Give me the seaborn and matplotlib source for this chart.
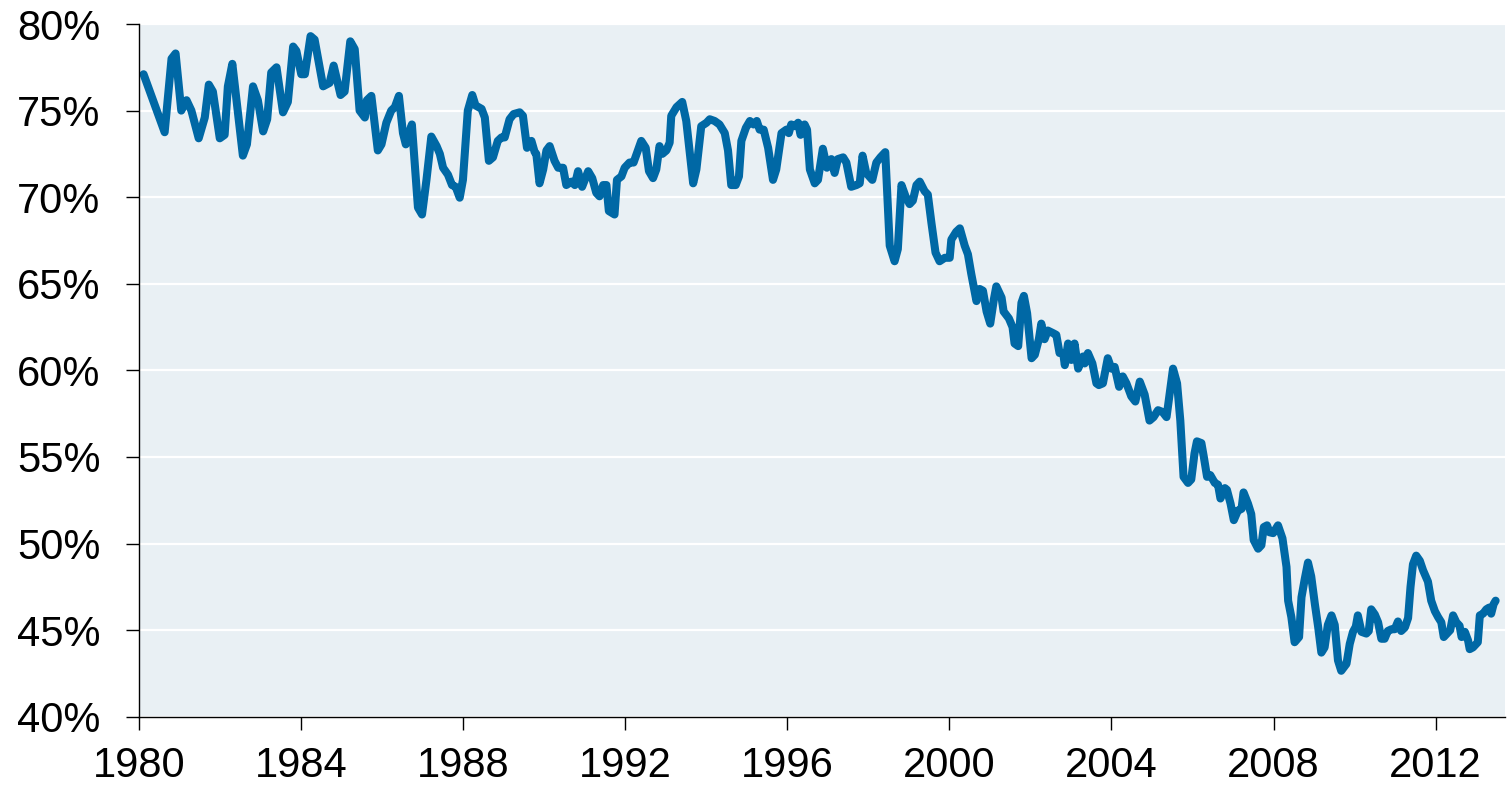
import pandas as pd
import matplotlib
matplotlib.use("Agg")
import matplotlib.pyplot as plt
import seaborn as sns
from matplotlib.ticker import PercentFormatter, MultipleLocator

# Series (decimal year, percent)
years = [
    1980.12, 1980.64, 1980.81, 1980.91, 1981.05, 1981.18, 1981.30, 1981.48, 1981.63, 1981.73,
    1981.83, 1982.00, 1982.12, 1982.20, 1982.31, 1982.57, 1982.67, 1982.82, 1982.94, 1983.07,
    1983.17, 1983.27, 1983.40, 1983.56, 1983.68, 1983.81, 1983.89, 1984.01, 1984.10, 1984.24,
    1984.34, 1984.55, 1984.71, 1984.81, 1984.98, 1985.08, 1985.22, 1985.33, 1985.45, 1985.58,
    1985.63, 1985.74, 1985.90, 1985.99, 1986.11, 1986.23, 1986.32, 1986.42, 1986.52, 1986.59,
    1986.64, 1986.74, 1986.89, 1986.99, 1987.10, 1987.22, 1987.35, 1987.43, 1987.51, 1987.63,
    1987.73, 1987.82, 1987.92, 1988.00, 1988.12, 1988.23, 1988.31, 1988.46, 1988.54, 1988.64,
    1988.74, 1988.86, 1988.95, 1989.03, 1989.15, 1989.25, 1989.40, 1989.48, 1989.58, 1989.69,
    1989.77, 1989.81, 1989.89, 1989.98, 1990.06, 1990.14, 1990.26, 1990.35, 1990.47, 1990.55,
    1990.68, 1990.76, 1990.84, 1990.94, 1991.09, 1991.19, 1991.29, 1991.37, 1991.46, 1991.54,
    1991.60, 1991.74, 1991.80, 1991.91, 1991.99, 1992.11, 1992.21, 1992.40, 1992.51, 1992.59,
    1992.69, 1992.77, 1992.85, 1992.92, 1993.02, 1993.10, 1993.14, 1993.27, 1993.41, 1993.51,
    1993.68, 1993.76, 1993.88, 1994.01, 1994.09, 1994.21, 1994.33, 1994.46, 1994.54, 1994.62,
    1994.73, 1994.81, 1994.87, 1994.98, 1995.08, 1995.17, 1995.25, 1995.32, 1995.42, 1995.53,
    1995.65, 1995.73, 1995.86, 1995.98, 1996.04, 1996.10, 1996.19, 1996.27, 1996.33, 1996.43,
    1996.49, 1996.56, 1996.68, 1996.76, 1996.88, 1996.98, 1997.09, 1997.17, 1997.25, 1997.38,
    1997.46, 1997.58, 1997.71, 1997.79, 1997.86, 1997.95, 1998.10, 1998.20, 1998.30, 1998.42,
    1998.53, 1998.65, 1998.73, 1998.82, 1998.92, 1999.02, 1999.10, 1999.19, 1999.27, 1999.39,
    1999.47, 1999.56, 1999.66, 1999.76, 1999.89, 2000.01, 2000.05, 2000.17, 2000.26, 2000.38,
    2000.46, 2000.54, 2000.67, 2000.75, 2000.83, 2000.92, 2001.01, 2001.10, 2001.16, 2001.29,
    2001.34, 2001.47, 2001.56, 2001.61, 2001.70, 2001.78, 2001.84, 2001.92, 2002.03, 2002.11,
    2002.21, 2002.27, 2002.35, 2002.43, 2002.56, 2002.64, 2002.72, 2002.81, 2002.85, 2002.93,
    2003.01, 2003.09, 2003.18, 2003.30, 2003.34, 2003.42, 2003.53, 2003.63, 2003.69, 2003.79,
    2003.91, 2004.00, 2004.08, 2004.19, 2004.28, 2004.37, 2004.49, 2004.59, 2004.70, 2004.82,
    2004.94, 2005.04, 2005.15, 2005.26, 2005.36, 2005.44, 2005.52, 2005.62, 2005.70, 2005.78,
    2005.89, 2005.97, 2006.05, 2006.11, 2006.22, 2006.28, 2006.36, 2006.44, 2006.55, 2006.63,
    2006.69, 2006.80, 2006.85, 2006.94, 2007.02, 2007.12, 2007.21, 2007.26, 2007.37, 2007.45,
    2007.51, 2007.62, 2007.70, 2007.76, 2007.84, 2007.90, 2007.99, 2008.11, 2008.22, 2008.32,
    2008.36, 2008.44, 2008.52, 2008.63, 2008.69, 2008.77, 2008.85, 2008.93, 2009.02, 2009.10,
    2009.18, 2009.26, 2009.34, 2009.43, 2009.51, 2009.59, 2009.67, 2009.80, 2009.88, 2009.96,
    2010.03, 2010.08, 2010.17, 2010.29, 2010.35, 2010.41, 2010.50, 2010.58, 2010.66, 2010.74,
    2010.82, 2010.91, 2010.99, 2011.07, 2011.15, 2011.24, 2011.32, 2011.38, 2011.44, 2011.52,
    2011.61, 2011.69, 2011.81, 2011.89, 2011.98, 2012.06, 2012.14, 2012.20, 2012.28, 2012.36,
    2012.43, 2012.51, 2012.59, 2012.64, 2012.72, 2012.80, 2012.84, 2012.92, 2013.04, 2013.09,
    2013.17, 2013.25, 2013.32, 2013.37, 2013.43, 2013.48,
]

rate = [
    77.1, 73.75, 78.0, 78.3, 75.0, 75.6, 75.0, 73.4, 74.6, 76.5,
    76.1, 73.4, 73.6, 76.4, 77.7, 72.4, 73.05, 76.4, 75.6, 73.8,
    74.5, 77.2, 77.5, 74.9, 75.5, 78.7, 78.45, 77.1, 77.1, 79.3,
    79.1, 76.4, 76.6, 77.6, 75.9, 76.1, 79.0, 78.55, 75.0, 74.6,
    75.6, 75.85, 72.7, 73.05, 74.3, 75.0, 75.2, 75.85, 73.7, 73.05,
    73.5, 74.2, 69.4, 69.0, 71.0, 73.5, 72.95, 72.5, 71.7, 71.3,
    70.7, 70.6, 69.97, 71.0, 75.0, 75.9, 75.3, 75.1, 74.6, 72.1,
    72.3, 73.25, 73.45, 73.45, 74.5, 74.8, 74.9, 74.7, 72.85, 73.25,
    72.6, 72.5, 70.8, 71.6, 72.7, 72.95, 72.1, 71.7, 71.7, 70.7,
    70.9, 70.7, 71.5, 70.6, 71.5, 71.1, 70.25, 70.05, 70.7, 70.7,
    69.2, 69.0, 71.0, 71.2, 71.7, 72.0, 72.0, 73.25, 72.85, 71.5,
    71.1, 71.6, 72.95, 72.5, 72.7, 73.15, 74.7, 75.2, 75.5, 74.4,
    70.8, 71.6, 74.1, 74.3, 74.5, 74.4, 74.2, 73.7, 72.7, 70.7,
    70.7, 71.2, 73.25, 74.0, 74.4, 74.2, 74.4, 73.9, 73.9, 72.85,
    71.0, 71.6, 73.7, 73.9, 73.7, 74.2, 74.1, 74.3, 73.6, 74.2,
    73.9, 71.6, 70.8, 71.0, 72.8, 71.7, 72.2, 71.4, 72.2, 72.3,
    72.0, 70.6, 70.7, 70.8, 72.4, 71.4, 71.0, 72.0, 72.3, 72.6,
    67.2, 66.3, 67.0, 70.7, 70.05, 69.6, 69.8, 70.7, 70.9, 70.35,
    70.15, 68.5, 66.8, 66.3, 66.5, 66.5, 67.55, 68.0, 68.2, 67.2,
    66.7, 65.6, 64.0, 64.7, 64.6, 63.4, 62.7, 64.1, 64.85, 64.2,
    63.4, 63.0, 62.5, 61.55, 61.4, 63.9, 64.3, 63.3, 60.7, 60.9,
    61.8, 62.7, 61.8, 62.3, 62.15, 62.05, 61.0, 61.0, 60.3, 61.55,
    60.6, 61.55, 60.1, 60.8, 60.4, 61.0, 60.4, 59.25, 59.15, 59.25,
    60.7, 60.1, 60.2, 59.05, 59.65, 59.25, 58.5, 58.2, 59.35, 58.6,
    57.1, 57.3, 57.7, 57.6, 57.3, 58.7, 60.1, 59.25, 57.1, 53.85,
    53.5, 53.7, 55.2, 55.9, 55.8, 55.0, 53.85, 53.95, 53.5, 53.4,
    52.6, 53.2, 53.1, 52.3, 51.35, 51.9, 52.0, 52.95, 52.3, 51.7,
    50.2, 49.7, 49.9, 50.95, 51.05, 50.65, 50.6, 51.05, 50.3, 48.65,
    46.7, 45.75, 44.3, 44.6, 46.9, 47.95, 48.9, 48.1, 46.5, 45.2,
    43.7, 44.0, 45.3, 45.85, 45.3, 43.25, 42.65, 43.05, 44.2, 44.9,
    45.2, 45.85, 44.9, 44.8, 44.95, 46.2, 45.9, 45.45, 44.5, 44.5,
    44.95, 45.05, 45.05, 45.5, 44.95, 45.15, 45.7, 47.5, 48.8, 49.3,
    49.0, 48.45, 47.8, 46.7, 46.1, 45.75, 45.45, 44.6, 44.8, 45.0,
    45.85, 45.45, 45.25, 44.6, 44.9, 44.4, 43.9, 44.0, 44.3, 45.85,
    45.95, 46.2, 46.3, 45.95, 46.5, 46.7,
]

year_ticks = [1980, 1984, 1988, 1992, 1996, 2000, 2004, 2008, 2012]

df = pd.DataFrame({"year": years, "rate": rate})

sns.set_style("white", {
    "axes.facecolor": "#E9F0F4",
    "axes.edgecolor": "black",
    "grid.color": "white",
    "text.color": "black",
    "xtick.color": "black",
    "ytick.color": "black",
})
plt.rcParams["font.family"] = ["Liberation Sans", "DejaVu Sans"]

fig = plt.figure(figsize=(15.11, 7.9), dpi=100)
ax = fig.add_axes([0.0918, 0.0928, 0.9042, 0.8768])

sns.lineplot(data=df, x="year", y="rate", estimator=None, sort=False,
             color="#0068A5", linewidth=5.8, ax=ax)
ax.lines[0].set_solid_joinstyle("round")
ax.lines[0].set_solid_capstyle("round")

ax.set_xlim(1980, 2013.71)
ax.set_ylim(40, 80)
ax.set_xticks(year_ticks)
ax.yaxis.set_major_locator(MultipleLocator(5))
ax.yaxis.set_major_formatter(PercentFormatter(xmax=100, decimals=0))

ax.yaxis.grid(True, color="white", linewidth=1.6)
ax.xaxis.grid(False)
ax.set_axisbelow(True)

for side in ["top", "right"]:
    ax.spines[side].set_visible(False)
for side in ["left", "bottom"]:
    ax.spines[side].set_linewidth(1.0)
    ax.spines[side].set_color("black")

ax.tick_params(axis="y", which="major", direction="out", length=9.5, width=1.0,
               color="black", labelcolor="black", left=True, labelsize=30, pad=18)
ax.tick_params(axis="x", which="major", direction="out", length=9, width=1.0,
               color="black", labelcolor="black", bottom=True, labelsize=30, pad=12)

ax.set_xlabel("")
ax.set_ylabel("")

fig.savefig("out.png", dpi=100)
